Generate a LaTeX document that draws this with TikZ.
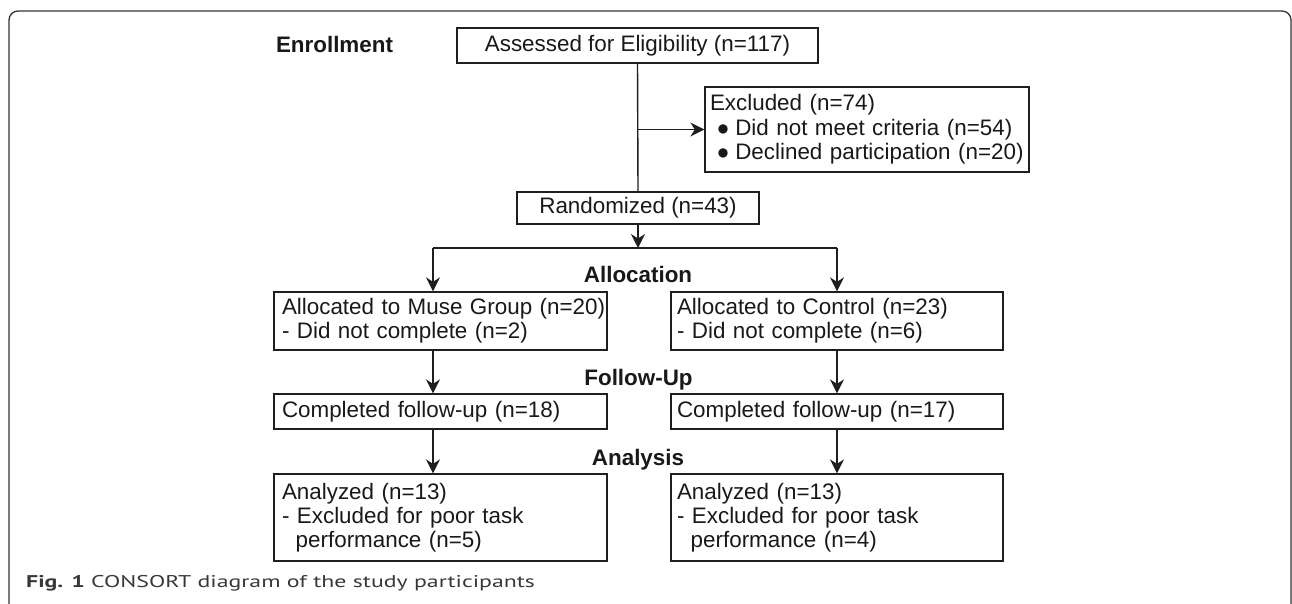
\documentclass[tikz,border=0pt]{standalone}
\usepackage{fontspec}
\usepackage{graphicx}
\setmainfont{Liberation Sans}
\newfontfamily\capfont[FakeStretch=1.4]{PT Sans}
\usetikzlibrary{arrows.meta}
\definecolor{txt}{gray}{0.1}
\definecolor{ln}{gray}{0.12}
\definecolor{capc}{gray}{0.22}
\newcommand\bul{{\fontsize{21.5}{0}\selectfont ●}}
\begin{document}
\begin{tikzpicture}[x=1pt,y=-1pt,
  every node/.style={font=\fontsize{22.4}{24.3}\selectfont, text=txt},
  cbox/.style={draw=ln, line width=1.3pt, inner xsep=0pt, inner ysep=0pt, align=center},
  lbox/.style={draw=ln, line width=1.3pt, inner ysep=0pt, align=left},
  lab/.style={font=\fontsize{22.4}{24.3}\selectfont\bfseries, anchor=base, inner sep=0pt},
  conn/.style={draw=ln, line width=1.4pt},
  arr/.style={conn, -{Stealth[length=14pt,width=14pt,inset=4.5pt]}}
]
\useasboundingbox (0,0) rectangle (1292,603);
\clip (0,0) rectangle (1292,603);
\fill[white] (0,0) rectangle (1292,603);
\draw[line width=1.3pt, draw=black!80, rounded corners=9pt] (9,11) rectangle (1291,650);

% labels
\node[lab] (enr) at (334.5,52) {Enrollment};
\node[lab] (alloc) at (638,282) {Allocation};
\node[lab] (fup) at (638.5,385) {Follow-Up};
\node[lab] (ana) at (638,465) {Analysis};

% boxes
\node[cbox, minimum width=361pt, minimum height=35pt] (assess) at (637.5,45.5) {Assessed for Eligibility (n=117)};
\node[lbox, inner xsep=5pt, text width=314pt, minimum height=85pt] (excl) at (867,129.5)
  {Excluded (n=74)\\
   \hspace*{6.5pt}\bul\hspace{5.8pt}Did not meet criteria (n=54)\\
   \hspace*{6.5pt}\bul\hspace{5.8pt}Declined participation (n=20)};
\node[cbox, minimum width=242pt, minimum height=32pt] (rand) at (638,208) {Randomized (n=43)};

\node[lbox, inner xsep=8pt, text width=317pt, minimum height=58pt] (muse) at (440.5,321)
  {\mbox{Allocated to Muse Group (n=20)}\\- Did not complete (n=2)};
\node[lbox, inner xsep=6pt, text width=320pt, minimum height=58pt] (ctrl) at (837,321)
  {Allocated to Control (n=23)\\- Did not complete (n=6)};

\node[lbox, inner xsep=8pt, text width=317pt, minimum height=35pt] (compL) at (440.5,411.5)
  {Completed follow-up (n=18)};
\node[lbox, inner xsep=6pt, text width=320pt, minimum height=35pt] (compR) at (837,411.5)
  {Completed follow-up (n=17)};

\node[lbox, inner xsep=8pt, text width=317pt, minimum height=87pt] (anaL) at (440.5,517.5)
  {Analyzed (n=13)\\- Excluded for poor task\\\hspace*{13.7pt}performance (n=5)};
\node[lbox, inner xsep=6pt, text width=320pt, minimum height=87pt] (anaR) at (837,517.5)
  {Analyzed (n=13)\\- Excluded for poor task\\\hspace*{13.7pt}performance (n=4)};

% connectors
\coordinate (b1) at (assess.south |- excl.west);
\coordinate (split) at (638,248);
\coordinate (sl) at (433,248);
\coordinate (sr) at (837,248);
\draw[conn] (assess.south) -- (rand.north);
\draw[arr] (b1) -- (excl.west);
\draw[arr] (rand.south) -- (split);
\draw[conn] (sl) -- (sr);
\draw[arr] (sl) -- (sl |- muse.north);
\draw[arr] (sr) -- (ctrl.north);
\draw[arr] (sl |- muse.south) -- (sl |- compL.north);
\draw[arr] (ctrl.south) -- (compR.north);
\draw[arr] (sl |- compL.south) -- (sl |- anaL.north);
\draw[arr] (compR.south) -- (anaR.north);

% caption
\node[anchor=base west, inner sep=0pt, font=\capfont\fontsize{17}{20}\selectfont, text=capc] (cap) at (26,587)
  {\textbf{Fig. 1} CONSORT diagram of the study participants};
\end{tikzpicture}
\end{document}
